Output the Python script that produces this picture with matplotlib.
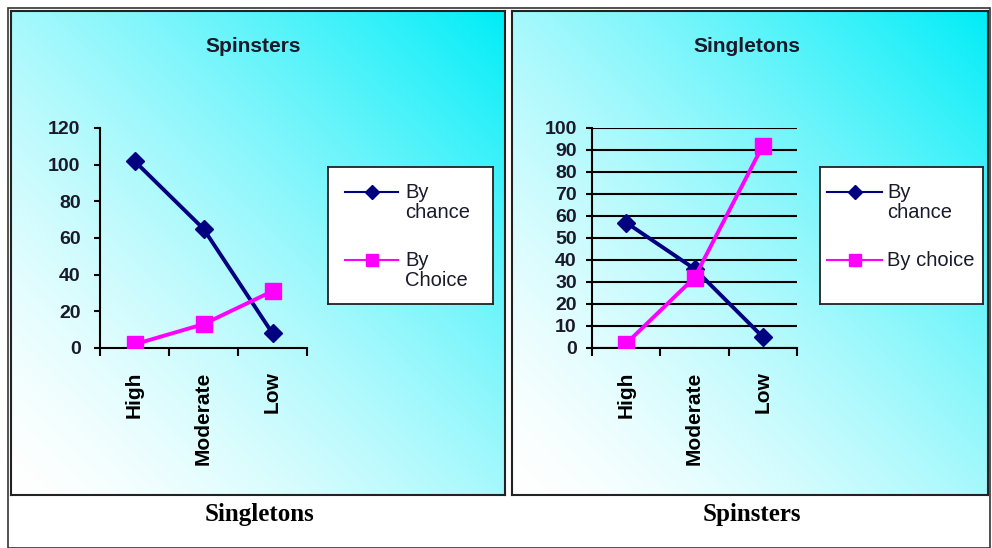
import numpy as np
import matplotlib.pyplot as plt
from matplotlib.patches import Rectangle
from matplotlib.lines import Line2D

categories = ['High', 'Moderate', 'Low']

left_title = 'Spinsters'
left_caption = 'Singletons'
left_chance = [102, 65, 8]
left_choice = [2, 13, 31]
left_labels = ['By\nchance', 'By\nChoice']

right_title = 'Singletons'
right_caption = 'Spinsters'
right_chance = [57, 36, 5]
right_choice = [2, 32, 92]
right_labels = ['By\nchance', 'By choice']

W, H = 992, 548
fig = plt.figure(figsize=(W / 100, H / 100), dpi=100)
SANS = 'Liberation Sans'


def fx(px):
    return px / W


def fy(py):
    return 1 - py / H


# outer frame
fig.patches.append(Rectangle((fx(8), fy(548)), fx(990) - fx(8), fy(8) - fy(548),
                             transform=fig.transFigure, fill=False, ec='#333333', lw=1.2))

# gradient white (bottom-left) -> cyan (top-right)
n = 200
u = np.linspace(0, 1, n)
U, V = np.meshgrid(u, u[::-1])
t = np.clip((U + V) / 2, 0, 1) ** 1.5
white = np.array([1.0, 1.0, 1.0])
cyan = np.array([0.0, 0.93, 0.97])
grad = white[None, None, :] * (1 - t[..., None]) + cyan[None, None, :] * t[..., None]


def panel(pbox, ax_box, leg_box, leg_x, title, title_x, caption, caption_x,
          chance, choice, labels, yticks, grid, ypad):
    x0, x1, y0, y1 = pbox
    bg = fig.add_axes([fx(x0), fy(y1), fx(x1) - fx(x0), fy(y0) - fy(y1)])
    bg.imshow(grad, aspect='auto', extent=[0, 1, 0, 1])
    bg.set_xticks([])
    bg.set_yticks([])
    for s in bg.spines.values():
        s.set_color('#222222')
        s.set_linewidth(1.5)
    fig.text(fx(title_x), fy(47), title, ha='center', va='center',
             fontsize=15, fontweight='bold', family=SANS, color='#1a1a2a')

    ax0, ax1, ay0, ay1 = ax_box
    ax = fig.add_axes([fx(ax0), fy(ay1), fx(ax1) - fx(ax0), fy(ay0) - fy(ay1)])
    ax.patch.set_alpha(0)
    xs = np.arange(len(categories))
    ax.plot(xs, chance, color='#000080', lw=2.8, marker='D', ms=9.5, zorder=3)
    ax.plot(xs, choice, color='#ff00ff', lw=2.8, marker='s', ms=11, zorder=3)
    ax.set_xlim(-0.5, 2.5)
    ax.set_ylim(0, yticks[-1])
    ax.set_yticks(yticks)
    # separators as minor ticks, category labels on major ticks
    ax.set_xticks([-0.5, 0.5, 1.5, 2.5], minor=True)
    ax.set_xticks(xs)
    ax.tick_params(axis='x', which='major', length=0, pad=17)
    ax.tick_params(axis='x', which='minor', length=6, direction='out', width=1.5)
    ax.tick_params(axis='y', length=4, direction='out', width=1.5, pad=ypad)
    ax.set_xticklabels(categories, rotation=90, va='top', fontweight='bold',
                       fontsize=15, family=SANS)
    ax.set_yticklabels([str(v) for v in yticks], fontweight='bold', fontsize=14,
                       family=SANS, color='#1a1a2a')
    for s in ('top', 'right'):
        ax.spines[s].set_visible(False)
    for s in ('left', 'bottom'):
        ax.spines[s].set_linewidth(1.5)
    if grid:
        ax.yaxis.grid(True, color='black', lw=1.5)
        ax.set_axisbelow(True)

    # legend box drawn by hand so the handle sits on the first label line
    lx0, lx1, ly0, ly1 = leg_box
    leg_ax = fig.add_axes([fx(lx0), fy(ly1), fx(lx1) - fx(lx0), fy(ly0) - fy(ly1)])
    leg_ax.set_facecolor('white')
    leg_ax.set_xlim(lx0, lx1)
    leg_ax.set_ylim(ly1, ly0)
    leg_ax.set_xticks([])
    leg_ax.set_yticks([])
    for s in leg_ax.spines.values():
        s.set_color('#222222')
        s.set_linewidth(1.3)
    h0, h1, tx = leg_x
    styles = [('#000080', 'D', 7), ('#ff00ff', 's', 9)]
    for (col, mk, ms), lab, yy in zip(styles, labels, [192, 260]):
        leg_ax.add_line(Line2D([h0, h1], [yy, yy], color=col, lw=1.5))
        leg_ax.plot([(h0 + h1) / 2], [yy], marker=mk, color=col, ms=ms)
        for k, line in enumerate(lab.split('\n')):
            leg_ax.text(tx, yy + 20 * k, line, ha='left', va='center',
                        fontsize=14.5, family=SANS, color='#1a1a2a')

    fig.text(fx(caption_x), fy(514), caption, ha='center', va='center',
             fontsize=18, fontweight='bold', family='Liberation Serif')


panel((11, 505, 11, 495), (100, 307, 128, 348), (328, 493, 167, 304),
      (345, 398, 405), left_title, 253, left_caption, 259,
      left_chance, left_choice, left_labels, [0, 20, 40, 60, 80, 100, 120], False, 10)
panel((512, 988, 11, 495), (592, 797, 128, 348), (820, 983, 167, 304),
      (827, 882, 887), right_title, 747, right_caption, 752,
      right_chance, right_choice, right_labels, list(range(0, 101, 10)), True, 7)

fig.savefig('out.png', dpi=100)
